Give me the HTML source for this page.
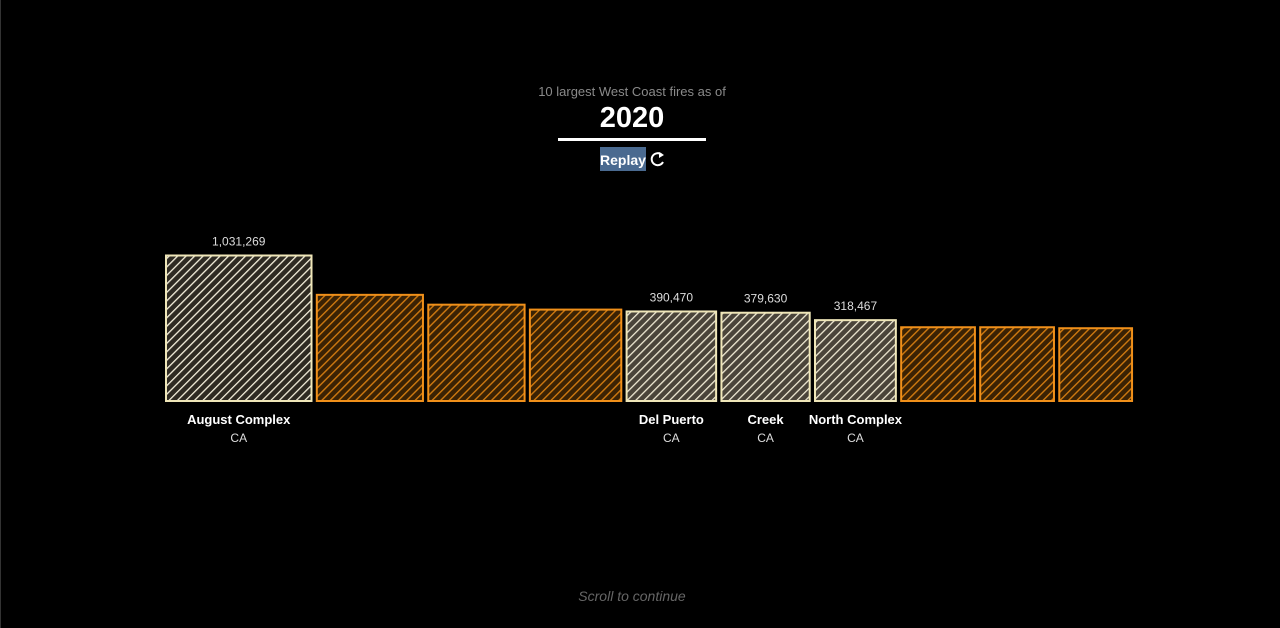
<!DOCTYPE html>
<html><head><meta charset="utf-8"><style>
body{margin:0;width:1280px;height:628px;background:#000;overflow:hidden;font-family:"Liberation Sans",sans-serif;border-left:1px solid #333;box-sizing:border-box}
</style></head><body>
<svg width="1280" height="628" style="position:absolute;left:0;top:0">
<defs>
<pattern id="hc" width="6" height="6" patternUnits="userSpaceOnUse" patternTransform="rotate(45)"><rect width="6" height="6" fill="#2e2a22"/><rect width="1.3" height="6" fill="#f5f0dc"/></pattern>
<pattern id="hg" width="6" height="6" patternUnits="userSpaceOnUse" patternTransform="rotate(45)"><rect width="6" height="6" fill="#4a443a"/><rect width="1.3" height="6" fill="#f0ead4"/></pattern>
<pattern id="ho" width="6" height="6" patternUnits="userSpaceOnUse" patternTransform="rotate(45)"><rect width="6" height="6" fill="#3a2204"/><rect width="1.4" height="6" fill="#d07a10"/></pattern>
</defs>
<text x="632" y="96" text-anchor="middle" font-size="13" fill="#8a8a8a">10 largest West Coast fires as of</text>
<text x="632" y="127" text-anchor="middle" font-size="29" font-weight="bold" fill="#fff">2020</text>
<rect x="558" y="138" width="148" height="3" fill="#fff"/>
<g>
<rect x="600" y="147" width="46" height="24" fill="#4a6a90"/>
<text x="623" y="165" text-anchor="middle" font-size="14" font-weight="bold" fill="#fff">Replay</text>
<path d="M662 155 A6 6 0 1 0 663 162" stroke="#fff" stroke-width="2" fill="none"/><path d="M659 152 L664 155 L659 158 Z" fill="#fff"/>
</g>
<g id="bars"></g>
<text x="632" y="601" text-anchor="middle" font-size="14" font-style="italic" fill="#666">Scroll to continue</text>
</svg>
<script>
const names=["August Complex","","","","Del Puerto","Creek","North Complex","","",""];
const states=["CA","","","","CA","CA","CA","","",""];
const acres=[1031269,549000,452000,407000,390470,379630,318467,265000,265000,258000];
const current=[true,false,false,false,true,true,true,false,false,false];
const k=145.5/Math.sqrt(1031269), base=401, gap=3.3;
const g=document.getElementById('bars');
const NS="http://www.w3.org/2000/svg";
let x=166;
acres.forEach((v,i)=>{
 const s=k*Math.sqrt(v);
 const r=document.createElementNS(NS,'rect');
 r.setAttribute('x',x);r.setAttribute('y',base-s);r.setAttribute('width',s);r.setAttribute('height',s);
 r.setAttribute('fill',i===0?'url(#hc)':current[i]?'url(#hg)':'url(#ho)');
 r.setAttribute('stroke',current[i]?'#efe6b8':'#f0901a');r.setAttribute('stroke-width','2');
 
 
 g.appendChild(r);
 const cx=x+s/2;
 if(current[i]){
  const t=document.createElementNS(NS,'text');
  t.setAttribute('x',cx);t.setAttribute('y',base-s-10);t.setAttribute('text-anchor','middle');t.setAttribute('font-size','12');t.setAttribute('fill','#ddd');
  t.textContent=v.toLocaleString('en-US');
  
  
  g.appendChild(t);
  const n=document.createElementNS(NS,'text');
  n.setAttribute('x',cx);n.setAttribute('y',424);n.setAttribute('text-anchor','middle');n.setAttribute('font-size','13');n.setAttribute('font-weight','bold');n.setAttribute('fill','#fff');
  n.textContent=names[i];
  
  
  g.appendChild(n);
  const st=document.createElementNS(NS,'text');
  st.setAttribute('x',cx);st.setAttribute('y',442);st.setAttribute('text-anchor','middle');st.setAttribute('font-size','12');st.setAttribute('fill','#ddd');
  st.textContent=states[i];
  
  
  g.appendChild(st);
 }
 x+=s+2+gap;
});
</script>
</body></html>
